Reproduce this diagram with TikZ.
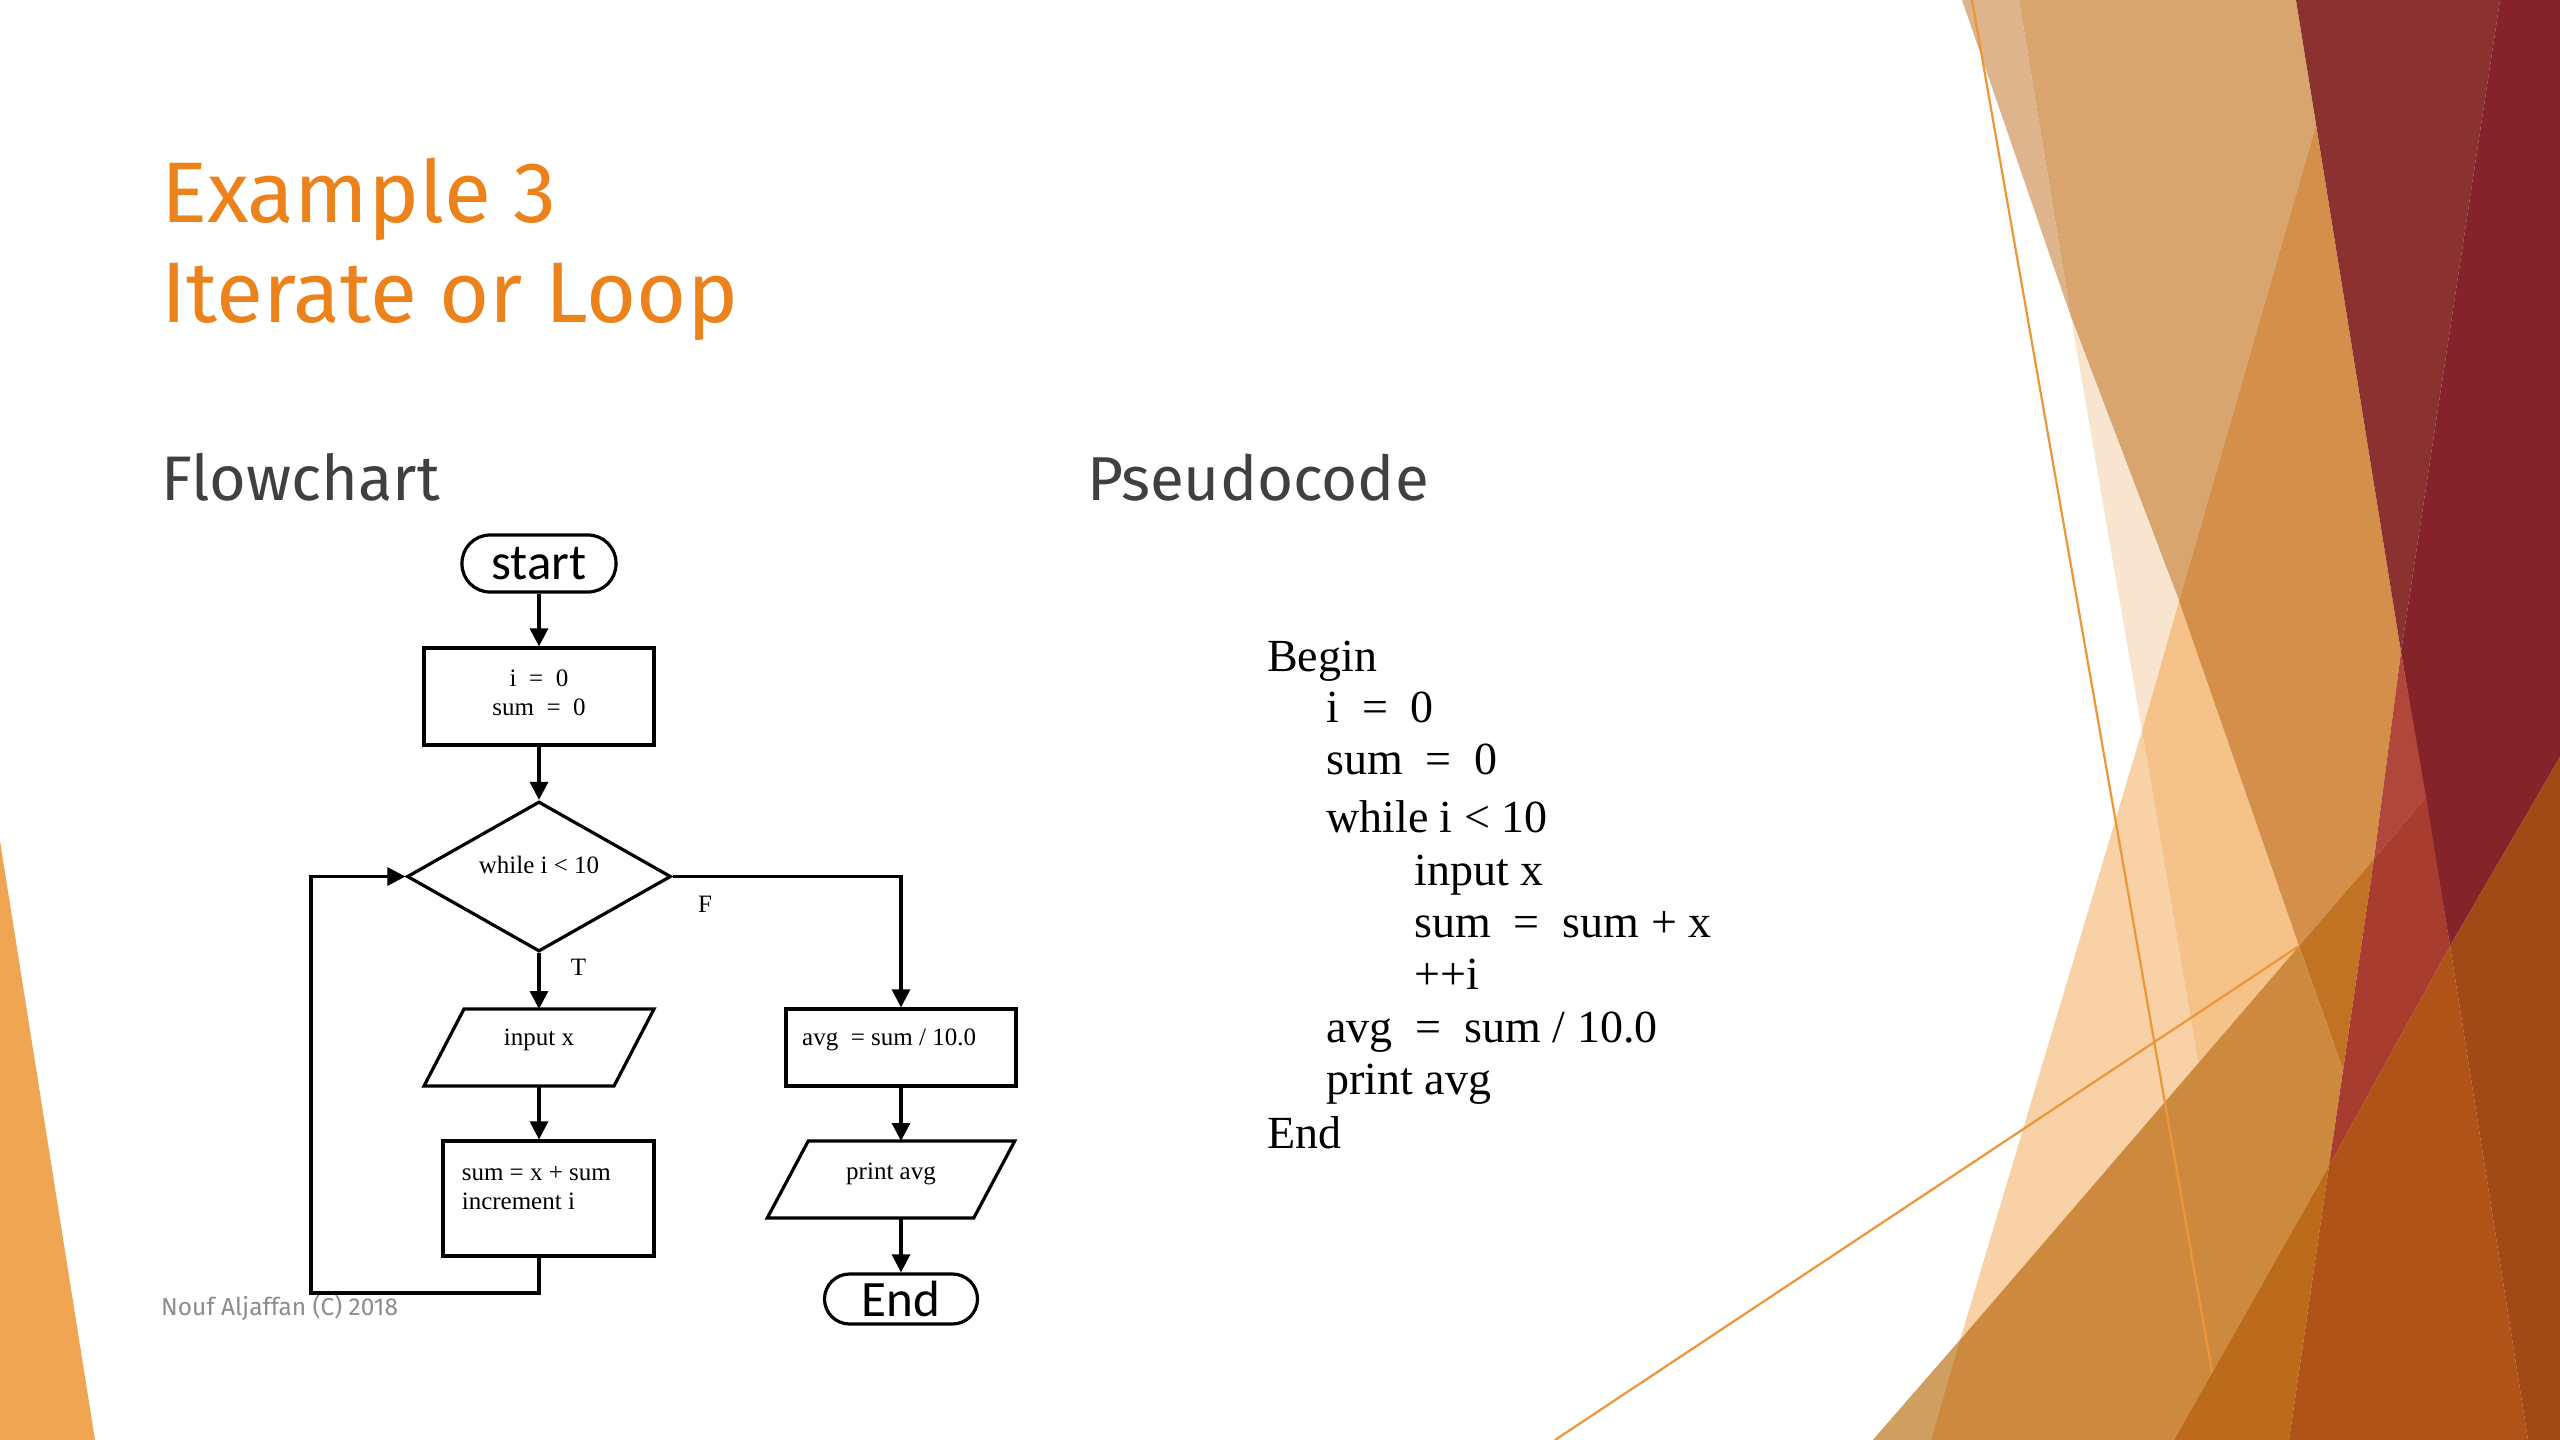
\documentclass[tikz,border=0pt]{standalone}
\usepackage{fontspec}
\setmainfont{Liberation Serif}
\newfontfamily\fira{Fira Sans}
\newfontfamily\carl{Carlito}
\usetikzlibrary{shapes.geometric,arrows.meta,calc}
\definecolor{titleor}{RGB}{236,130,28}
\definecolor{headgray}{RGB}{64,64,64}
\definecolor{footgray}{RGB}{140,140,140}
\definecolor{cLightTan}{RGB}{221,180,139}
\definecolor{cTan}{RGB}{216,165,111}
\definecolor{cPale}{RGB}{249,228,207}
\definecolor{cLOr}{RGB}{245,194,138}
\definecolor{cLOrL}{RGB}{248,210,166}
\definecolor{cMedOr}{RGB}{212,144,74}
\definecolor{cDkOr}{RGB}{193,114,34}
\definecolor{cBand}{RGB}{205,138,63}
\definecolor{cBandTan}{RGB}{207,159,98}
\definecolor{cBurnt}{RGB}{188,107,26}
\definecolor{cMidRed}{RGB}{139,50,48}
\definecolor{cDkRed}{RGB}{132,36,42}
\definecolor{cRedTop}{RGB}{176,71,58}
\definecolor{cRed}{RGB}{167,60,47}
\definecolor{cRust}{RGB}{175,83,25}
\definecolor{cRustDk}{RGB}{161,74,21}
\definecolor{cLeftTri}{RGB}{240,165,82}
\definecolor{cThin}{RGB}{236,150,56}
\begin{document}
\begin{tikzpicture}[x=1pt,y=-1pt,
  fl/.style={line width=3.2pt},
  box/.style={draw, line width=3.2pt, rectangle, inner sep=0pt},
  term/.style={draw, line width=3.2pt, rectangle, inner sep=0pt, font=\carl\fontsize{51}{60}\selectfont},
  arr/.style={line width=3.2pt, -{Triangle[length=18pt,width=18pt]}},
  lbl/.style={inner sep=0pt, font=\fontsize{25}{29.5}\selectfont},
  pc/.style={anchor=base west, inner sep=0pt, font=\fontsize{46}{53}\selectfont},
  thin/.style={draw=cThin, line width=2.2pt}
]
\useasboundingbox (0,0) rectangle (2560,1440);
\fill[white] (0,0) rectangle (2560,1440);

% ---------- background decoration ----------
\coordinate (Y0) at (1962,0);
\coordinate (X0) at (2019,0);
\coordinate (XY) at (2071,317);
\coordinate (Z0) at (2296,0);
\coordinate (ZW) at (2316,125);
\coordinate (YW) at (2179,601);
\coordinate (XW) at (2142,731);
\coordinate (ZU) at (2401,652);
\coordinate (U0) at (2500,0);
\coordinate (UB) at (2374,859);
\coordinate (ZB) at (2426,797);
\coordinate (YB) at (2299,946);
\coordinate (WB) at (1960,1340);
\coordinate (XB) at (2198,1063);
\coordinate (YU) at (2343,1070);
\coordinate (ZR) at (2450,946);
\coordinate (UR) at (2329,1166);
\coordinate (RE) at (2560,757);
\coordinate (RB) at (2174,1440);
\coordinate (UBot) at (2289,1440);
\coordinate (ZBot) at (2528,1440);
\coordinate (BBot) at (1873,1440);
\coordinate (WBot) at (1931,1440);
\coordinate (TR) at (2560,0);
\coordinate (BR) at (2560,1440);

\fill[cLightTan] (Y0) -- (X0) -- (XY) -- cycle;
\fill[cTan] (X0) -- (Z0) -- (ZW) -- (YW) -- (XY) -- cycle;
\fill[cPale] (XY) -- (YW) -- (XW) -- cycle;
\fill[cLOr] (XW) -- (YW) -- (YB) -- (XB) -- cycle;
\fill[cLOrL] (XW) -- (XB) -- (WB) -- cycle;
\fill[cMedOr] (ZW) -- (ZU) -- (UB) -- (YB) -- (YW) -- cycle;
\fill[cDkOr] (YB) -- (UB) -- (YU) -- cycle;
\fill[cBand] (BBot) -- (WB) -- (YB) -- (YU) -- (UR) -- (RB) -- cycle;
\fill[cBandTan] (BBot) -- (WB) -- (WBot) -- cycle;
\fill[cBurnt] (UR) -- (UBot) -- (RB) -- cycle;
\fill[cMidRed] (Z0) -- (U0) -- (ZU) -- cycle;
\fill[cDkRed] (U0) -- (TR) -- (RE) -- (ZR) -- (ZU) -- cycle;
\fill[cRedTop] (ZU) -- (ZB) -- (UB) -- cycle;
\fill[cRed] (UB) -- (ZB) -- (ZR) -- (UR) -- cycle;
\fill[cRust] (UR) -- (ZR) -- (ZBot) -- (UBot) -- cycle;
\fill[cRustDk] (ZR) -- (RE) -- (BR) -- (ZBot) -- cycle;
\coordinate (T1a) at (1972,0);
\coordinate (T1b) at (2212,1372);
\coordinate (T2a) at (1555,1440);
\coordinate (T2b) at (2299,946);
\draw[thin] (T1a) -- (T1b);
\draw[thin] (T2a) -- (T2b);
\coordinate (L1) at (0,841);
\coordinate (L2) at (95,1440);
\coordinate (L3) at (0,1440);
\fill[cLeftTri] (L1) -- (L2) -- (L3) -- cycle;

% ---------- titles ----------
\node[anchor=base west, inner sep=0pt, text=titleor, font=\fira\fontsize{86}{100}\selectfont] (t1) at (161,222) {Example 3};
\node[anchor=base west, inner sep=0pt, text=titleor, font=\fira\fontsize{86}{100}\selectfont] (t2) at (161,322) {Iterate or Loop};
\node[anchor=base west, inner sep=0pt, text=headgray, font=\fira\fontsize{63}{72}\selectfont] (h1) at (161,500) {Flowchart};
\node[anchor=base west, inner sep=0pt, text=headgray, font=\fira\fontsize{62}{72}\selectfont] (h2) at (1087,500) {Pseudocode};
\node[anchor=west, inner sep=0pt, text=footgray, font=\fira\fontsize{24.5}{28}\selectfont] (foot) at (161,1308) {Nouf Aljaffan (C) 2018};

% ---------- pseudocode ----------
\node[pc] (p1) at (1267,671) {Begin};
\node[pc] (p2) at (1326,722) {i~~=~~0};
\node[pc] (p3) at (1326,774) {sum~~=~~0};
\node[pc] (p4) at (1326,832) {while i < 10};
\node[pc] (p5) at (1414,885) {input x};
\node[pc] (p6) at (1414,937) {sum~~=~~sum + x};
\node[pc] (p7) at (1414,989) {++i};
\node[pc] (p8) at (1326,1042) {avg~~=~~sum / 10.0};
\node[pc] (p9) at (1326,1094) {print avg};
\node[pc] (p10) at (1267,1148) {End};

% ---------- flowchart ----------
\node[term, minimum width=154pt, minimum height=57pt, rounded corners=28pt] (st) at (539,563.5) {start};
\node[box, minimum width=230pt, minimum height=97pt] (b1) at (539,696.5) {};
\node[lbl, align=center] (b1t) at (539,693) {i~~=~~0\\sum~~=~~0};
\node[draw, diamond, line width=3.2pt, inner sep=0pt, aspect=1.76, minimum width=264pt, minimum height=150pt] (dia) at (539,876.5) {};
\node[lbl] (diat) at (539,865) {while i < 10};
\node[lbl] (lf) at (705,904) {F};
\node[lbl] (lt) at (578.5,967) {T};
\node[inner sep=0pt, outer sep=0pt, minimum width=230pt, minimum height=77pt] (inp) at (539,1047.5) {};
\draw[fl] ([xshift=40pt]inp.north west) -- (inp.north east) -- ([xshift=-40pt]inp.south east) -- (inp.south west) -- cycle;
\node[lbl] (inpt) at (539,1040) {input x};
\node[box, minimum width=211pt, minimum height=115pt] (sm) at (548.5,1198.5) {};
\node[lbl, anchor=west, align=left] (smt) at (461.6,1188) {sum = x + sum\\increment i};
\node[box, minimum width=230pt, minimum height=77pt] (avg) at (901,1047.5) {};
\node[lbl, anchor=west] (avgt) at (802,1040) {avg~~= sum / 10.0};
\node[inner sep=0pt, outer sep=0pt, minimum width=247.5pt, minimum height=77pt] (prt) at (891,1179.5) {};
\draw[fl] ([xshift=41pt]prt.north west) -- (prt.north east) -- ([xshift=-41pt]prt.south east) -- (prt.south west) -- cycle;
\node[lbl] (prtt) at (891,1174) {print avg};
\node[term, minimum width=153pt, minimum height=50pt, rounded corners=25pt] (en) at (901,1299) {End};
\coordinate (lb) at (311,1293);

\draw[arr] (st.south) -- (b1.north);
\draw[arr] (b1.south) -- (dia.north);
\draw[arr] (dia.south) -- (inp.north);
\draw[arr] (dia.east) -| (avg.north);
\draw[arr] (inp.south) -- (inp.south |- sm.north);
\draw[arr] (inp.south |- sm.south) |- (lb) |- (dia.west);
\draw[arr] (avg.south) -- (avg.south |- prt.north);
\draw[arr] (avg.south |- prt.south) -- (en.north);
\end{tikzpicture}
\end{document}
